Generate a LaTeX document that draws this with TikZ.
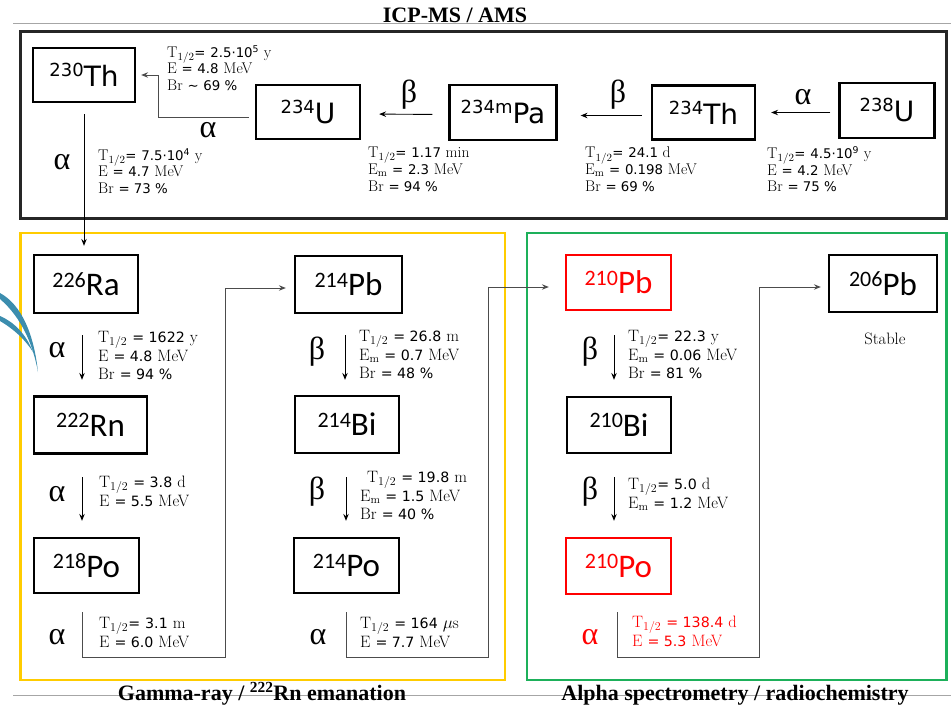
\documentclass[tikz,border=0pt]{standalone}
\usepackage{fontspec}
\usetikzlibrary{arrows.meta}
\newfontfamily\nucA{DejaVu Sans}
\newfontfamily\numfont[Scale=0.86]{DejaVu Sans}
\newfontfamily\nucB{Carlito}
\newfontfamily\ttlfont{Liberation Serif}
\definecolor{ygold}{HTML}{FFCC00}
\definecolor{ggreen}{HTML}{1DB05A}
\definecolor{tblue}{HTML}{3C8DAE}
\definecolor{nred}{HTML}{FF0000}
\newcommand{\nucT}[2]{{\nucA\raisebox{10pt}{\fontsize{18}{18}\selectfont #1}\fontsize{28}{28}\selectfont #2}}
\newcommand{\nucL}[2]{{\nucB\raisebox{8.5pt}{\fontsize{22}{22}\selectfont #1}\fontsize{33}{33}\selectfont #2}}
\newcommand{\nm}[1]{{\numfont #1}}
\newcommand{\Th}{T$_{1/2}$}
\newcommand{\Em}{E$_\mathrm{m}$}
\begin{document}
\begin{tikzpicture}[x=1pt,y=-1pt,
  nuc/.style={draw, line width=2.3pt, inner sep=0pt, rectangle, align=center},
  info/.style={anchor=north west, inner sep=0pt, align=left, font=\fontsize{15.5}{16.7}\selectfont},
  infoL/.style={info, font=\fontsize{16.5}{18.6}\selectfont},
  greek/.style={inner sep=0pt, font=\ttlfont\fontsize{32}{32}\selectfont},
  arr/.style={-{Stealth[length=7pt,width=5.5pt,inset=2.5pt]}, line width=0.9pt},
  elb/.style={arr, draw=black!70},
  ttl/.style={font=\ttlfont\bfseries\fontsize{22}{22}\selectfont, inner sep=0pt, anchor=base}]
\useasboundingbox (0,0) rectangle (951,707);

% rules and titles
\draw[black!35, line width=0.6pt] (13,23) -- (951,23);
\draw[black!35, line width=0.6pt] (13,695) -- (951,695);
\node[ttl] (tTop) at (455,22) {ICP-MS / AMS};
\node[ttl] (tGam) at (262,700) {Gamma-ray / \textsuperscript{222}Rn emanation};
\node[ttl] (tAlp) at (735,700) {Alpha spectrometry / radiochemistry};

% group boxes
\draw[line width=3pt, black!85] (20,31) rectangle (946,218);
\draw[line width=2.5pt, ygold] (20.5,233) rectangle (505,680);
\draw[line width=2.5pt, ggreen] (527,233) rectangle (946.5,680);

% blue swoosh
\fill[tblue] (0,293) .. controls (22,305) and (34,335) .. (38,372) .. controls (33,345) and (22,318) .. (0,299) -- cycle;
\fill[tblue] (0,316) .. controls (14,322) and (26,334) .. (33,352) .. controls (24,338) and (12,328) .. (0,321) -- cycle;

% top row nuclides
\node[nuc, minimum width=102pt, minimum height=54pt] (Th230) at (84,75) {\nucT{230}{Th}};
\node[nuc, minimum width=104pt, minimum height=54pt] (U234) at (308,112) {\nucT{234}{U}};
\node[nuc, minimum width=107pt, minimum height=55pt] (Pa234m) at (503,112.5) {\nucT{234m}{Pa}};
\node[nuc, minimum width=103pt, minimum height=54pt] (Th234) at (703.5,112.5) {\nucT{234}{Th}};
\node[nuc, minimum width=95pt, minimum height=55pt] (U238) at (887,110.5) {\nucT{238}{U}};

% lower nuclides
\node[nuc, minimum width=104pt, minimum height=58pt] (Ra226) at (86,284) {\nucL{226}{Ra}};
\node[nuc, minimum width=113pt, minimum height=57pt] (Rn222) at (90.5,425) {\nucL{222}{Rn}};
\node[nuc, minimum width=105pt, minimum height=55pt] (Po218) at (86.5,565.5) {\nucL{218}{Po}};
\node[nuc, minimum width=107pt, minimum height=57pt] (Pb214) at (348.5,284.5) {\nucL{214}{Pb}};
\node[nuc, minimum width=104pt, minimum height=57pt] (Bi214) at (347,424.5) {\nucL{214}{Bi}};
\node[nuc, minimum width=105pt, minimum height=55pt] (Po214) at (346.5,565.5) {\nucL{214}{Po}};
\node[nuc, draw=nred, text=nred, minimum width=105pt, minimum height=55pt] (Pb210) at (618.5,282.5) {\nucL{210}{Pb}};
\node[nuc, minimum width=104pt, minimum height=56pt] (Bi210) at (619,425) {\nucL{210}{Bi}};
\node[nuc, draw=nred, text=nred, minimum width=105pt, minimum height=56pt] (Po210) at (618.5,566) {\nucL{210}{Po}};
\node[nuc, minimum width=108pt, minimum height=57pt] (Pb206) at (883,283.5) {\nucL{206}{Pb}};
\node[inner sep=0pt, font=\fontsize{16.5}{16}\selectfont] (stab) at (885,339) {Stable};

% top connectors
\draw[arr, shorten <=8pt, shorten >=15pt] (U238.west |- Th234.east) -- (Th234.east);
\draw[arr, shorten <=9pt, shorten >=23pt] ([yshift=-3pt]Th234.west) -- ([yshift=-3pt]Pa234m.east);
\draw[arr, shorten <=16pt, shorten >=18pt] ([yshift=-2pt]Pa234m.west) -- ([yshift=-2pt]U234.east);
\coordinate (k1) at (158,117);
\draw[elb] ([xshift=-6pt]U234.west |- k1) -- (k1) |- ([xshift=5pt]Th230.east);
\draw[arr, shorten <=11pt, shorten >=8pt] (Th230.south) -- (Th230.south |- Ra226.north);

% top greek labels
\node[greek] (g1) at (803,97) {α};
\node[greek] (g2) at (618,95) {β};
\node[greek] (g3) at (409,95) {β};
\node[greek] (g4) at (208,130) {α};
\node[greek] (g5) at (62,162) {α};

% top info
\node[info] (iTh230) at (167,45) {\Th\nm{=} \nm{2.5·10}\textsuperscript{\nm{5}} y\\E \nm{=} \nm{4.8} MeV\\Br \nm{\textasciitilde} \nm{69 \%}};
\node[info] (iU234) at (98,148) {\Th\nm{=} \nm{7.5·10}\textsuperscript{\nm{4}} y\\E \nm{=} \nm{4.7} MeV\\Br \nm{= 73 \%}};
\node[info] (iPa) at (368,147) {\Th\nm{=} \nm{1.17} min\\\Em\ \nm{=} \nm{2.3} MeV\\Br \nm{= 94 \%}};
\node[info] (iTh234) at (585,147) {\Th\nm{=} \nm{24.1} d\\\Em\ \nm{=} \nm{0.198} MeV\\Br \nm{= 69 \%}};
\node[info] (iU238) at (767,146) {\Th\nm{=} \nm{4.5·10}\textsuperscript{\nm{9}} y\\E \nm{=} \nm{4.2} MeV\\Br \nm{= 75 \%}};

% lower vertical arrows
\draw[arr, shorten <=21pt, shorten >=15.5pt] ([xshift=-4pt]Ra226.south) -- ([xshift=-4pt]Ra226.south |- Rn222.north);
\draw[arr, shorten <=22.5pt, shorten >=16pt] ([xshift=-8.5pt]Rn222.south) -- ([xshift=-8.5pt]Rn222.south |- Po218.north);
\draw[arr, shorten <=21pt, shorten >=15pt] ([xshift=-3.5pt]Pb214.south) -- ([xshift=-3.5pt]Pb214.south |- Bi214.north);
\draw[arr, shorten <=23pt, shorten >=16pt] ([xshift=-1pt]Bi214.south) -- ([xshift=-1pt]Bi214.south |- Po214.north);
\draw[arr, shorten <=24pt, shorten >=16pt] ([xshift=-4.5pt]Pb210.south) -- ([xshift=-4.5pt]Pb210.south |- Bi210.north);
\draw[arr, shorten <=23pt, shorten >=16pt] ([xshift=-5pt]Bi210.south) -- ([xshift=-5pt]Bi210.south |- Po210.north);

% lower elbow connectors
\coordinate (c1) at (225,657);
\draw[elb, shorten >=8pt] ([xshift=-4.5pt,yshift=-18pt]Po218.south) |- (c1) |- ([yshift=-3.5pt]Pb214.west);
\coordinate (c2) at (488,657);
\draw[elb, shorten >=16pt] ([xshift=-0.5pt,yshift=-18pt]Po214.south) |- (c2) |- ([yshift=-4.5pt]Pb210.west);
\coordinate (c3) at (759,657);
\draw[elb, shorten >=7pt] ([xshift=-1.5pt,yshift=-17pt]Po210.south) |- (c3) |- ([yshift=-3.5pt]Pb206.west);

% lower greek labels
\node[greek] (g6) at (57,350) {α};
\node[greek] (g7) at (57,494) {α};
\node[greek] (g8) at (57,637) {α};
\node[greek] (g9) at (317,352) {β};
\node[greek] (g10) at (317,492) {β};
\node[greek] (g11) at (318,637) {α};
\node[greek] (g12) at (590,352) {β};
\node[greek] (g13) at (590,492) {β};
\node[greek, text=nred] (g14) at (590,637) {α};

% lower info
\node[infoL] (l1) at (98,331) {\Th\ \nm{= 1622} y\\E \nm{= 4.8} MeV\\Br \nm{= 94 \%}};
\node[infoL] (l2) at (99,476) {\Th\ \nm{= 3.8} d\\E \nm{= 5.5} MeV};
\node[infoL] (l3) at (99,617) {\Th\nm{=} \nm{3.1} m\\E \nm{= 6.0} MeV};
\node[infoL] (l4) at (359,330) {\Th\ \nm{= 26.8} m\\\Em\ \nm{= 0.7} MeV\\Br \nm{= 48 \%}};
\node[infoL] (l5) at (360,471) {\hspace{7pt}\Th\ \nm{= 19.8} m\\\Em\ \nm{= 1.5} MeV\\Br \nm{= 40 \%}};
\node[infoL] (l6) at (360,617) {\Th\ \nm{= 164} $\mu$s\\E \nm{= 7.7} MeV};
\node[infoL] (l7) at (628,330) {\Th\nm{=} \nm{22.3} y\\\Em\ \nm{= 0.06} MeV\\Br \nm{= 81 \%}};
\node[infoL] (l8) at (628,478) {\Th\nm{=} \nm{5.0} d\\\Em\ \nm{= 1.2} MeV};
\node[infoL, text=nred] (l9) at (632,616) {\Th\ \nm{= 138.4} d\\E \nm{= 5.3} MeV};
\end{tikzpicture}
\end{document}
